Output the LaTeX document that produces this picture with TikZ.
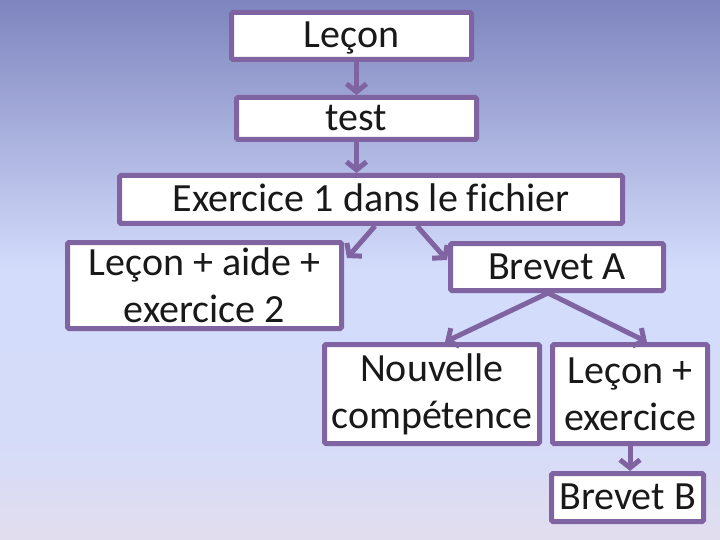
\documentclass[tikz,border=0pt]{standalone}
\usepackage{fontspec}
\setmainfont{Carlito}[Ligatures=NoCommon]
\usepackage{tikz}
\usetikzlibrary{arrows.meta,calc}
\definecolor{slideTop}{HTML}{7E85BF}
\definecolor{slideMid}{HTML}{D3DCFB}
\definecolor{slideLow}{HTML}{D4DCFA}
\definecolor{slideFoot}{HTML}{E2DDEE}
\definecolor{stepPurple}{HTML}{8064A2}
\pgfdeclareverticalshading{slidebg}{100bp}{color(0bp)=(slideFoot); color(25bp)=(slideFoot); color(35bp)=(slideLow); color(50bp)=(slideMid); color(75bp)=(slideTop); color(100bp)=(slideTop)}

\begin{document}
\begin{tikzpicture}[x=1pt, y=-1pt,
          font=\fontsize{40}{47}\selectfont,
          card/.style={draw=stepPurple, line width=5pt, fill=white, rounded corners=1.5pt,
                       inner sep=0pt, align=center, text=black!90},
          oneline/.style={card, text height=30pt, text depth=6pt},
          flow/.style={draw=stepPurple, line width=5pt, -{Straight Barb[length=8pt, width=20pt]}}]
        \shade[shading=slidebg] (0,0) rectangle (720,540);
        \useasboundingbox (0,0) rectangle (720,540);
        \node[oneline, minimum width=240pt, minimum height=47pt] (lecon) at (351.5,36) {Leçon};
        \node[oneline, minimum width=240pt, minimum height=42pt] (test) at (356.5,118.5) {test};
        \node[oneline, minimum width=503pt, minimum height=48pt] (exo1) at (371,199.5) {Exercice 1 dans le fichier};
        \node[card, minimum width=274pt, minimum height=86pt] (aide) at (204.5,285.5) {Leçon + aide +\\exercice 2};
        \node[oneline, minimum width=213pt, minimum height=47pt] (brevetA) at (557,267) {Brevet A};
        \node[card, minimum width=215pt, minimum height=99pt] (nouvelle) at (432,394) {Nouvelle\\compétence};
        \node[card, minimum width=155pt, minimum height=99pt] (lecex) at (630,394) {Leçon +\\exercice};
        \node[oneline, minimum width=152pt, minimum height=48pt] (brevetB) at (627.5,497.5) {Brevet B};
        \draw[flow] (lecon.south -| test.north) -- (test.north);
        \draw[flow] (test.south) -- (test.south |- exo1.north);
        \draw[flow] ([xshift=4pt]exo1.south) -- ([xshift=3pt, yshift=-18pt]aide.north east);
        \draw[flow] ([xshift=46pt]exo1.south) -- ([xshift=-1pt, yshift=-19pt]brevetA.north west);
        \draw[flow] ([xshift=-9pt]brevetA.south) -- ([xshift=13pt]nouvelle.north);
        \draw[flow] ([xshift=-9pt]brevetA.south) -- ([xshift=17pt]lecex.north);
        \draw[flow] (lecex.south) -- (lecex.south |- brevetB.north);
      \end{tikzpicture}
\end{document}
